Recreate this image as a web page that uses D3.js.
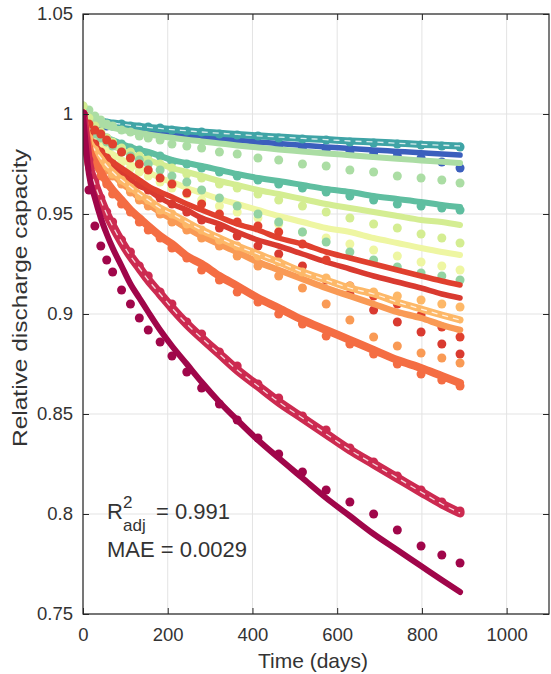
<!DOCTYPE html>
<html>
<head>
<meta charset="utf-8">
<script src="https://cdn.jsdelivr.net/npm/d3@7"></script>
<style>
  body { margin: 0; background: #fff; }
  text { font-family: Arial, "Liberation Sans", Helvetica, sans-serif; fill: #333; }
</style>
</head>
<body>
<svg id="chart" width="551" height="674"></svg>
<script>
// storage days shared by every series
const days = [0, 14, 28, 42, 56, 70, 91, 112, 133, 154, 182, 210, 245, 280, 322, 364, 413, 462, 518, 574, 630, 686, 742, 798, 847, 890]

const xTicks = [0, 200, 400, 600, 800, 1000]
const yTicks = [0.75, 0.8, 0.85, 0.9, 0.95, 1, 1.05]
const yTickLabels = ['0.75', '0.8', '0.85', '0.9', '0.95', '1', '1.05']

// model (fit) and measured (obs) relative capacity
const blueFit = [1.000, 0.9974, 0.9964, 0.9955, 0.9949, 0.9943, 0.9934, 0.9927, 0.9921, 0.9915, 0.9907, 0.990, 0.9892, 0.9885, 0.9877, 0.9869, 0.986, 0.9852, 0.9844, 0.9835, 0.9828, 0.982, 0.9813, 0.9806, 0.980, 0.9795]
const blueObs = [1.000, 0.997, 0.996, 0.995, 0.994, 0.994, 0.993, 0.992, 0.991, 0.991, 0.990, 0.989, 0.988, 0.9875, 0.987, 0.986, 0.985, 0.984, 0.983, 0.982, 0.981, 0.980, 0.979, 0.978, 0.976, 0.973]
const tealFit = [1.000, 0.998, 0.9972, 0.9965, 0.996, 0.9955, 0.9949, 0.9943, 0.9938, 0.9933, 0.9928, 0.9922, 0.9916, 0.991, 0.9904, 0.9898, 0.9891, 0.9885, 0.9878, 0.9872, 0.9865, 0.986, 0.9854, 0.9848, 0.9844, 0.984]
const tealObs = [1.000, 0.999, 0.997, 0.996, 0.995, 0.9945, 0.995, 0.994, 0.9935, 0.9935, 0.993, 0.992, 0.9915, 0.991, 0.990, 0.9895, 0.989, 0.988, 0.9875, 0.987, 0.986, 0.9855, 0.985, 0.9845, 0.984, 0.9835]
const lightGreenFit = [1.000, 0.997, 0.9957, 0.9947, 0.9939, 0.9931, 0.9922, 0.9913, 0.9905, 0.9898, 0.9889, 0.9881, 0.9871, 0.9863, 0.9853, 0.9843, 0.9833, 0.9823, 0.9813, 0.9803, 0.9794, 0.9785, 0.9776, 0.9768, 0.9761, 0.9755]
const lightGreenObs = [1.004, 1.002, 0.999, 0.997, 0.995, 0.994, 0.992, 0.991, 0.989, 0.988, 0.987, 0.985, 0.984, 0.983, 0.981, 0.980, 0.978, 0.977, 0.975, 0.974, 0.972, 0.971, 0.969, 0.968, 0.967, 0.9655]
const greenFit = [1.000, 0.994, 0.992, 0.990, 0.988, 0.987, 0.985, 0.9835, 0.982, 0.981, 0.979, 0.977, 0.9755, 0.974, 0.972, 0.970, 0.968, 0.9665, 0.9645, 0.9625, 0.961, 0.959, 0.9575, 0.956, 0.9545, 0.9535]
const greenObs = [1.000, 0.994, 0.992, 0.989, 0.988, 0.986, 0.985, 0.983, 0.982, 0.980, 0.979, 0.976, 0.975, 0.973, 0.971, 0.969, 0.967, 0.965, 0.963, 0.961, 0.959, 0.957, 0.955, 0.954, 0.953, 0.952]
const yellowGreenFit = [1.000, 0.993, 0.990, 0.988, 0.986, 0.984, 0.982, 0.980, 0.9785, 0.977, 0.975, 0.973, 0.971, 0.969, 0.9665, 0.9645, 0.962, 0.960, 0.9575, 0.955, 0.953, 0.951, 0.949, 0.947, 0.946, 0.9445]
const yellowGreenObs = [1.004, 0.998, 0.994, 0.991, 0.988, 0.986, 0.983, 0.981, 0.979, 0.977, 0.975, 0.973, 0.970, 0.968, 0.965, 0.963, 0.960, 0.957, 0.954, 0.951, 0.948, 0.945, 0.943, 0.940, 0.938, 0.9355]
const paleFit = [1.000, 0.991, 0.9875, 0.985, 0.982, 0.980, 0.9775, 0.975, 0.973, 0.971, 0.968, 0.966, 0.963, 0.9605, 0.9575, 0.955, 0.952, 0.949, 0.946, 0.943, 0.941, 0.938, 0.9355, 0.933, 0.931, 0.9295]
const paleObs = [1.000, 0.990, 0.986, 0.983, 0.981, 0.978, 0.976, 0.973, 0.971, 0.969, 0.966, 0.963, 0.960, 0.957, 0.954, 0.951, 0.948, 0.945, 0.941, 0.938, 0.935, 0.932, 0.929, 0.926, 0.924, 0.922]
const mintObs = [1.000, 0.993, 0.990, 0.988, 0.986, 0.984, 0.981, 0.979, 0.977, 0.975, 0.972, 0.969, 0.966, 0.962, 0.958, 0.954, 0.950, 0.946, 0.941, 0.936, 0.931, 0.927, 0.9235, 0.9205, 0.919, 0.917]
const redBFit = [1.000, 0.9885, 0.984, 0.980, 0.977, 0.974, 0.9705, 0.967, 0.964, 0.962, 0.958, 0.955, 0.952, 0.948, 0.945, 0.941, 0.937, 0.934, 0.930, 0.926, 0.9225, 0.919, 0.916, 0.913, 0.910, 0.908]
const redBObs = [1.000, 0.990, 0.985, 0.981, 0.978, 0.975, 0.971, 0.968, 0.965, 0.962, 0.958, 0.955, 0.951, 0.947, 0.943, 0.939, 0.934, 0.930, 0.924, 0.917, 0.910, 0.902, 0.896, 0.891, 0.885, 0.880]
const redAFit = [1.000, 0.989, 0.985, 0.981, 0.9785, 0.976, 0.973, 0.970, 0.967, 0.964, 0.961, 0.9585, 0.955, 0.952, 0.9485, 0.945, 0.942, 0.938, 0.935, 0.931, 0.928, 0.925, 0.922, 0.919, 0.9165, 0.9145]
const redAObs = [1.000, 0.995, 0.992, 0.990, 0.987, 0.985, 0.981, 0.978, 0.975, 0.972, 0.968, 0.965, 0.9605, 0.955, 0.950, 0.946, 0.944, 0.941, 0.935, 0.927, 0.914, 0.909, 0.905, 0.8995, 0.8935, 0.8885]
const lightOrangeBFit = [1.000, 0.986, 0.981, 0.9765, 0.973, 0.970, 0.9655, 0.962, 0.958, 0.955, 0.951, 0.9475, 0.943, 0.939, 0.935, 0.931, 0.926, 0.922, 0.9175, 0.913, 0.909, 0.905, 0.901, 0.898, 0.8945, 0.892]
const lightOrangeBObs = [1.000, 0.985, 0.980, 0.976, 0.972, 0.969, 0.965, 0.961, 0.957, 0.954, 0.950, 0.946, 0.942, 0.938, 0.934, 0.929, 0.924, 0.919, 0.913, 0.905, 0.897, 0.8885, 0.884, 0.8805, 0.878, 0.8755]
const lightOrangeAFit = [1.000, 0.987, 0.982, 0.978, 0.974, 0.971, 0.967, 0.9635, 0.960, 0.957, 0.953, 0.950, 0.946, 0.942, 0.938, 0.934, 0.930, 0.926, 0.921, 0.917, 0.913, 0.910, 0.906, 0.9025, 0.8995, 0.897]
const lightOrangeAObs = [1.000, 0.988, 0.982, 0.977, 0.974, 0.970, 0.967, 0.963, 0.959, 0.957, 0.952, 0.950, 0.945, 0.942, 0.937, 0.934, 0.929, 0.926, 0.921, 0.918, 0.914, 0.911, 0.909, 0.907, 0.905, 0.9035]
const orangeFit = [1.000, 0.983, 0.976, 0.971, 0.966, 0.962, 0.957, 0.952, 0.948, 0.944, 0.939, 0.935, 0.929, 0.925, 0.919, 0.914, 0.908, 0.903, 0.897, 0.892, 0.887, 0.882, 0.877, 0.873, 0.869, 0.8655]
const orangeObs = [1.000, 0.983, 0.975, 0.969, 0.965, 0.960, 0.955, 0.951, 0.946, 0.942, 0.938, 0.933, 0.928, 0.922, 0.917, 0.911, 0.906, 0.900, 0.895, 0.889, 0.885, 0.880, 0.875, 0.870, 0.867, 0.864]
const crimsonFit = [1.000, 0.975, 0.965, 0.957, 0.950, 0.944, 0.936, 0.929, 0.923, 0.917, 0.910, 0.903, 0.895, 0.888, 0.880, 0.872, 0.864, 0.856, 0.848, 0.840, 0.832, 0.825, 0.818, 0.811, 0.805, 0.8005]
const crimsonObs = [1.000, 0.977, 0.966, 0.958, 0.951, 0.946, 0.937, 0.931, 0.924, 0.919, 0.911, 0.905, 0.896, 0.890, 0.881, 0.874, 0.865, 0.858, 0.849, 0.842, 0.833, 0.826, 0.819, 0.812, 0.806, 0.8015]
const maroonFit = [1.000, 0.970, 0.958, 0.948, 0.940, 0.933, 0.924, 0.915, 0.908, 0.901, 0.892, 0.884, 0.875, 0.866, 0.856, 0.847, 0.837, 0.828, 0.818, 0.808, 0.799, 0.790, 0.782, 0.774, 0.767, 0.761]
const maroonObs = [1.000, 0.962, 0.944, 0.934, 0.927, 0.921, 0.912, 0.905, 0.898, 0.892, 0.886, 0.879, 0.871, 0.863, 0.855, 0.847, 0.838, 0.830, 0.821, 0.812, 0.806, 0.800, 0.792, 0.784, 0.7795, 0.7755]

const r2Value = '0.991'
const maeValue = '0.0029'

// drawing order: cool colours first, warm on top
const series = [
  { color: '#3b5fbd', fit: blueFit, obs: blueObs, width: 5.5 },
  { color: '#3fa4a6', fit: tealFit, obs: tealObs, width: 7, dashed: true },
  { color: '#abdda4', fit: lightGreenFit, obs: lightGreenObs, width: 6 },
  { color: '#5fbea0', fit: greenFit, obs: greenObs, width: 6 },
  { color: '#d4ed92', fit: yellowGreenFit, obs: yellowGreenObs, width: 6 },
  { color: '#eef6a2', fit: paleFit, obs: paleObs, width: 6 },
  { color: '#93d3a2', fit: null, obs: mintObs },
  { color: '#d93a30', fit: redBFit, obs: redBObs, width: 5.5 },
  { color: '#e0402e', fit: redAFit, obs: redAObs, width: 5.5 },
  { color: '#f99a55', fit: lightOrangeBFit, obs: lightOrangeBObs, width: 6.5 },
  { color: '#fdb868', fit: lightOrangeAFit, obs: lightOrangeAObs, width: 7, dashed: true },
  { color: '#f46d43', fit: orangeFit, obs: orangeObs, width: 8 },
  { color: '#cc2a50', fit: crimsonFit, obs: crimsonObs, width: 9, dashed: true },
  { color: '#a0064a', fit: maroonFit, obs: maroonObs, width: 6 }
]

const svg = d3.select('#chart')
const plotLeft = 83
const plotRight = 549
const plotTop = 14
const plotBottom = 614

const x = d3.scaleLinear().domain([0, 1100]).range([plotLeft, plotRight])
const y = d3.scaleLinear().domain([0.75, 1.05]).range([plotBottom, plotTop])

// grid
svg.append('g')
  .selectAll('line')
  .data(xTicks)
  .join('line')
  .attr('x1', (d) => x(d)).attr('x2', (d) => x(d))
  .attr('y1', plotTop).attr('y2', plotBottom)
  .attr('stroke', '#e3e3e3')
svg.append('g')
  .selectAll('line')
  .data(yTicks)
  .join('line')
  .attr('x1', plotLeft).attr('x2', plotRight)
  .attr('y1', (d) => y(d)).attr('y2', (d) => y(d))
  .attr('stroke', '#e3e3e3')

svg.append('clipPath').attr('id', 'plot-clip')
  .append('rect')
  .attr('x', plotLeft).attr('y', plotTop)
  .attr('width', plotRight - plotLeft).attr('height', plotBottom - plotTop)

const plot = svg.append('g').attr('clip-path', 'url(#plot-clip)')

const line = d3.line()
  .x((d) => x(d[0]))
  .y((d) => y(d[1]))
  .curve(d3.curveMonotoneX)

for (const s of series) {
  const g = plot.append('g')
  g.selectAll('circle')
    .data(days.map((d, i) => [d, s.obs[i]]))
    .join('circle')
    .attr('cx', (d) => x(d[0]))
    .attr('cy', (d) => y(d[1]))
    .attr('r', 4.5)
    .attr('fill', s.color)

  if (s.fit) {
    const pts = days.map((d, i) => [d, s.fit[i]])
    g.append('path')
      .attr('d', line(pts))
      .attr('fill', 'none')
      .attr('stroke', s.color)
      .attr('stroke-width', s.width)
      .attr('stroke-linecap', 'round')
    if (s.dashed) {
      g.append('path')
        .attr('d', line(pts))
        .attr('fill', 'none')
        .attr('stroke', '#fff')
        .attr('stroke-opacity', 0.8)
        .attr('stroke-width', 1.3)
        .attr('stroke-dasharray', '6,5')
    }
  }
}

// axes, ticks pointing inward like matlab
const fmtY = (d) => yTickLabels[yTicks.indexOf(d)]

svg.append('g')
  .attr('transform', `translate(0, ${plotBottom})`)
  .call(d3.axisBottom(x).tickValues(xTicks).tickFormat(d3.format('d')).tickSizeInner(-6).tickSizeOuter(0).tickPadding(14))
svg.append('g')
  .attr('transform', `translate(${plotLeft}, 0)`)
  .call(d3.axisLeft(y).tickValues(yTicks).tickFormat(fmtY).tickSizeInner(-6).tickSizeOuter(0).tickPadding(10))
svg.append('g')
  .attr('transform', `translate(0, ${plotTop})`)
  .call(d3.axisTop(x).tickValues(xTicks).tickSizeInner(-6).tickSizeOuter(0).tickFormat(''))
svg.append('g')
  .attr('transform', `translate(${plotRight}, 0)`)
  .call(d3.axisRight(y).tickValues(yTicks).tickSizeInner(-6).tickSizeOuter(0).tickFormat(''))

svg.selectAll('.domain').remove()
svg.selectAll('.tick line').attr('stroke', '#262626')
svg.selectAll('.tick text')
  .style('font-family', 'Arial, "Liberation Sans", sans-serif')
  .style('font-size', '18.5px')
  .attr('fill', '#333')

svg.append('rect')
  .attr('x', plotLeft).attr('y', plotTop)
  .attr('width', plotRight - plotLeft).attr('height', plotBottom - plotTop)
  .attr('fill', 'none')
  .attr('stroke', '#262626')
  .attr('stroke-width', 1.2)

// axis labels
svg.append('text')
  .attr('x', (plotLeft + plotRight) / 2 - 3)
  .attr('y', 668)
  .attr('text-anchor', 'middle')
  .style('font-size', '21px')
  .text('Time (days)')

svg.append('text')
  .attr('transform', 'translate(27, 298) rotate(-90)')
  .attr('text-anchor', 'middle')
  .attr('textLength', 298)
  .attr('lengthAdjust', 'spacingAndGlyphs')
  .style('font-size', '21px')
  .text('Relative discharge capacity')

// annotation
svg.append('text').attr('x', 107).attr('y', 519).style('font-size', '22px').text('R')
svg.append('text').attr('x', 123).attr('y', 508).style('font-size', '17px').text('2')
svg.append('text').attr('x', 123).attr('y', 531).style('font-size', '17px').text('adj')
svg.append('text').attr('x', 156).attr('y', 519).style('font-size', '22px').text(`= ${r2Value}`)
svg.append('text').attr('x', 107).attr('y', 557).style('font-size', '22px').text(`MAE = ${maeValue}`)
</script>
</body>
</html>
